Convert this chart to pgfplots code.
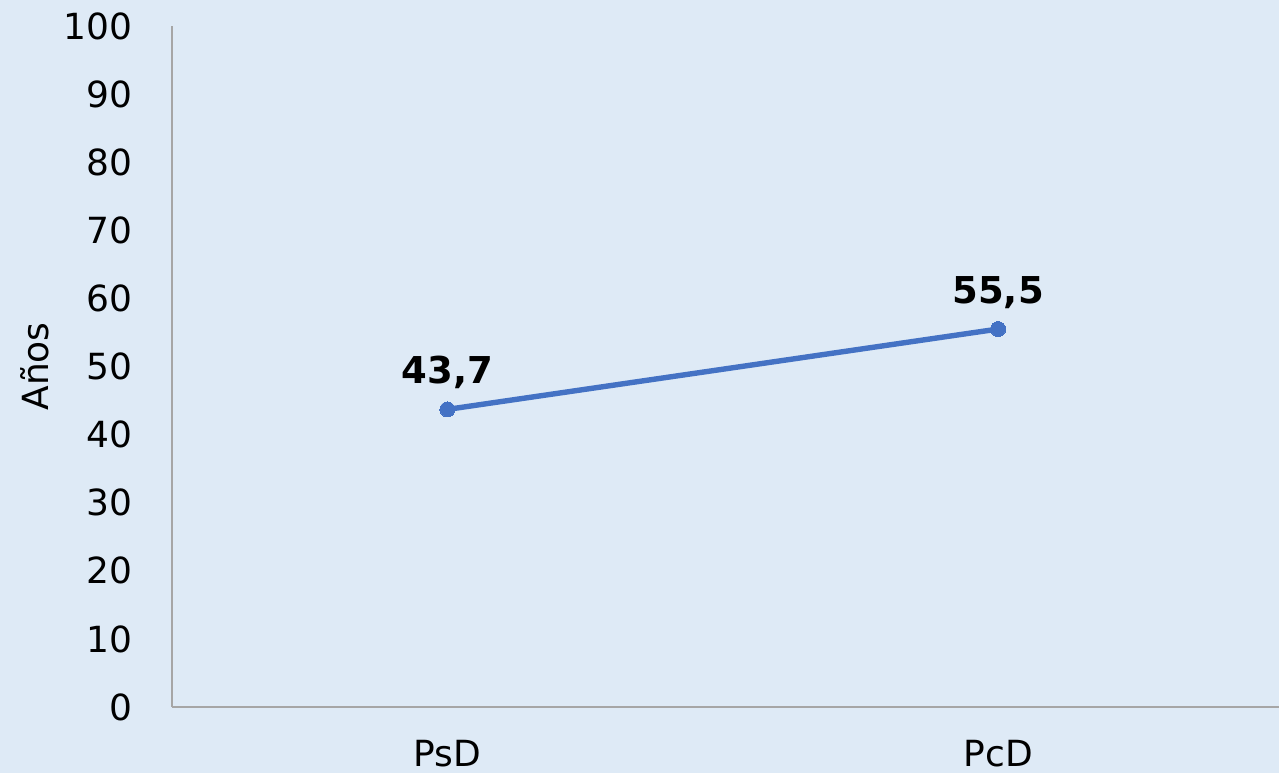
\documentclass[border=0pt]{standalone}
\usepackage{fontspec}
\setmainfont{DejaVu Sans}
\usepackage{pgfplots}
\pgfplotsset{compat=1.18}
\definecolor{bg}{HTML}{DEEAF6}
\definecolor{serie}{HTML}{4472C4}
\definecolor{axgray}{HTML}{A6A6A6}
\begin{document}
\begin{tikzpicture}
\fill[bg] (-86pt,-33pt) rectangle (553.5pt,353.5pt);
\useasboundingbox (-86pt,-33pt) rectangle (553.5pt,353.5pt);
\begin{axis}[
  at={(0,0)}, anchor=south west,
  scale only axis, width=553.5pt, height=340.5pt,
  xmin=-0.5, xmax=1.51, ymin=0, ymax=100,
  xtick={0,1}, xticklabels={PsD,PcD},
  ytick={0,10,...,100},
  axis x line*=bottom, axis y line*=left,
  axis line style={axgray, line width=0.6pt, -},
  major tick length=0pt,
  /pgf/number format/assume math mode=true,
  tick label style={font=\fontsize{18}{21}\selectfont, inner sep=0pt},
  yticklabel style={anchor=east},
  yticklabel shift=19.5pt,
  xticklabel style={anchor=north},
  xticklabel shift=16.5pt,
  ylabel={Años},
  ylabel style={font=\fontsize{18}{21}\selectfont, at={(axis description cs:-0.1238,0.5)}, anchor=center},
  clip=false,
]
\addplot[serie, line width=2.7pt, mark=*, mark size=3.75pt, mark options={fill=serie, draw=serie, line width=0pt},
  nodes near coords={\pgfmathprintnumber[fixed,precision=1,fixed zerofill,use comma,assume math mode=true]{\pgfplotspointmeta}},
  every node near coord/.append style={font=\fontsize{18.5}{22}\bfseries, text=black, anchor=south, inner sep=0pt, text depth=0pt, yshift=13pt},
] coordinates {(0,43.7) (1,55.5)};
\end{axis}
\end{tikzpicture}
\end{document}
